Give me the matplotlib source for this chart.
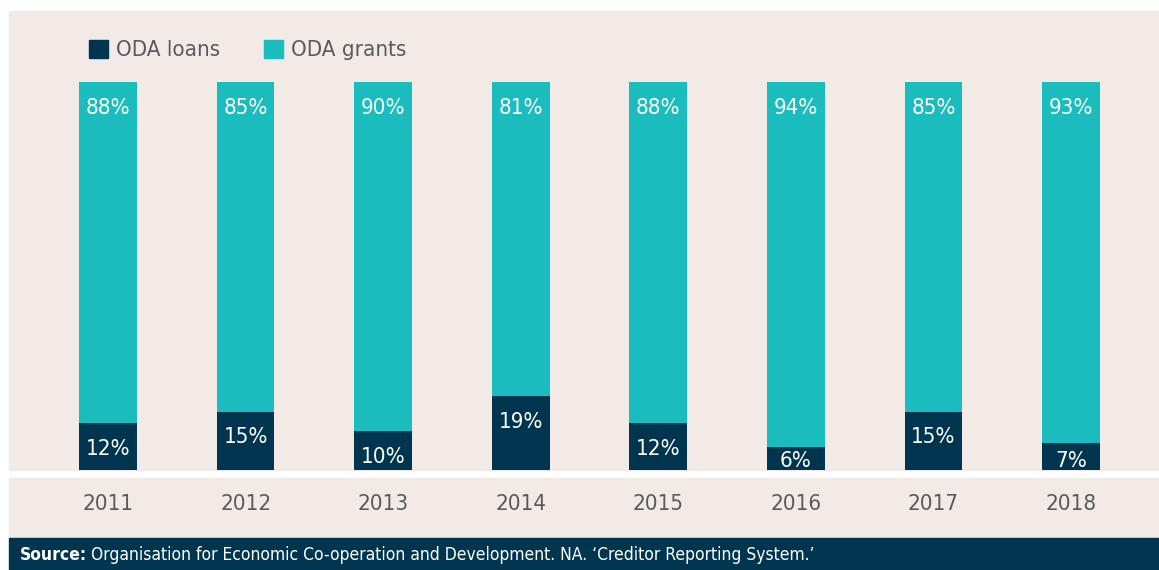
import matplotlib
matplotlib.use("Agg")
import matplotlib.pyplot as plt
from matplotlib import font_manager
from matplotlib.patches import Rectangle, Patch

years = ["2011", "2012", "2013", "2014", "2015", "2016", "2017", "2018"]
loans = [12, 15, 10, 19, 12, 6, 15, 7]
grants = [88, 85, 90, 81, 88, 94, 85, 93]

navy = "#003550"
teal = "#1abcbe"
bg = "#f2eae7"
grey = "#5a5a5a"

# fuente estrecha si existe
names = {f.name for f in font_manager.fontManager.ttflist}
if "Liberation Sans Narrow" in names:
    plt.rcParams["font.family"] = ["Liberation Sans Narrow", "DejaVu Sans"]
else:
    plt.rcParams["font.family"] = ["DejaVu Sans"]
    plt.rcParams["font.stretch"] = "condensed"

W, H = 1159, 570
fig = plt.figure(figsize=(W / 100, H / 100), dpi=100)

# fondo del panel, banda de años y banda de la fuente
for (x0, y0, w, h, c) in [(9, 100, 1150, 459, bg), (9, 32, 1150, 60, bg), (9, 0, 1150, 32, navy)]:
    fig.patches.append(Rectangle((x0 / W, y0 / H), w / W, h / H, transform=fig.transFigure,
                                 color=c, zorder=-5))

ax = fig.add_axes([9 / W, 100 / H, 1150 / W, 459 / H])
ax.set_facecolor("none")
x = list(range(len(years)))
ax.bar(x, loans, width=0.42, color=navy)
ax.bar(x, grants, width=0.42, bottom=loans, color=teal)
ax.set_xlim(-0.72, 7.64)
ax.set_ylim(0, 118.3)
ax.axis("off")

for i in x:
    ax.text(i, max(loans[i] - 6.6, 2.4), f"{loans[i]}%", ha="center", va="center", color="white", fontsize=16)
    ax.text(i, 100 - 6.6, f"{grants[i]}%", ha="center", va="center", color="white", fontsize=16)
    ax.text(i, -0.074, years[i], transform=ax.get_xaxis_transform(), ha="center", va="center",
            color=grey, fontsize=16)

ax.legend(handles=[Patch(color=navy, label="ODA loans"), Patch(color=teal, label="ODA grants")],
          loc="center left", bbox_to_anchor=(0.0696, (520 - 100) / 459), ncol=2, frameon=False,
          fontsize=16, labelcolor=grey, handlelength=0.86, handleheight=0.86,
          handletextpad=0.36, columnspacing=1.95, borderpad=0, borderaxespad=0)

t = fig.text(20 / W, 15 / H, "Source:", color="white", fontsize=12.5, va="center", fontweight="bold")
fig.canvas.draw()
bb = t.get_window_extent()
fig.text((bb.x1 + 4) / W, 15 / H,
         "Organisation for Economic Co-operation and Development. NA. \u2018Creditor Reporting System.\u2019",
         color="white", fontsize=12.5, va="center")
fig.savefig("out.png", dpi=100, facecolor="white")
